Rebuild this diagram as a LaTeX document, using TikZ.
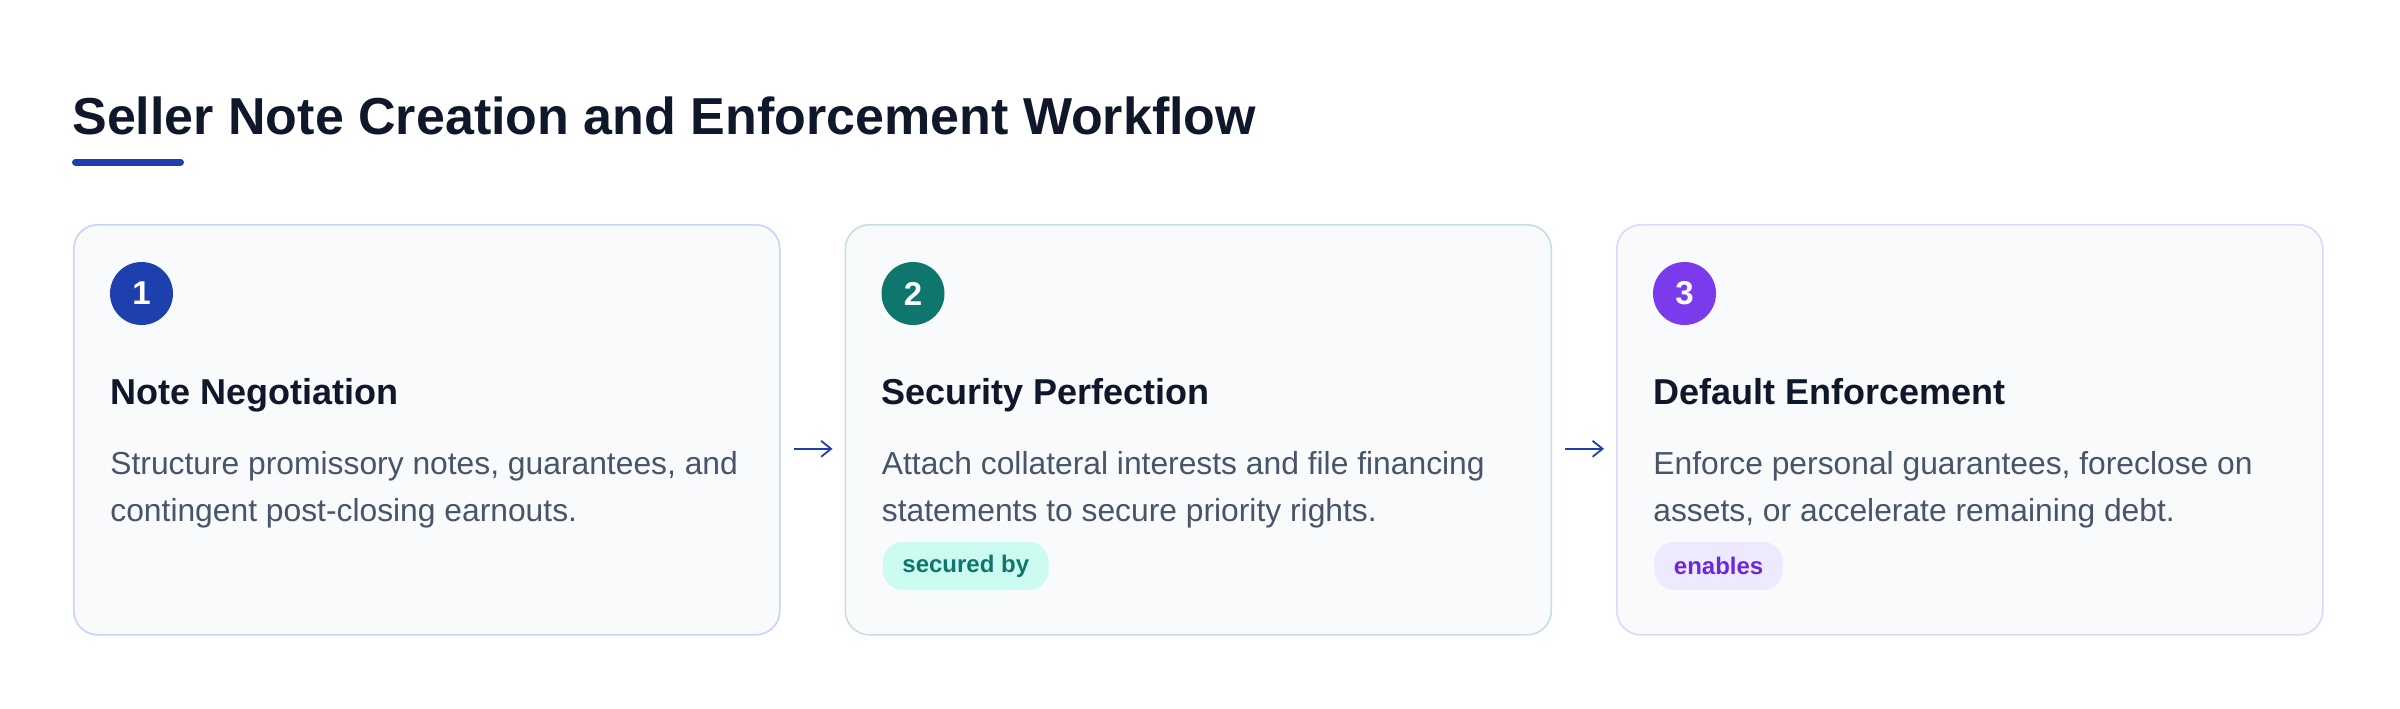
\documentclass[tikz,border=0pt]{standalone}
\usepackage{fontspec}
\setmainfont{Liberation Sans}
\usetikzlibrary{arrows.meta}

\definecolor{ink}{HTML}{0F172A}
\definecolor{slate}{HTML}{475569}
\definecolor{cardbg}{HTML}{F8FAFC}
\definecolor{blueA}{HTML}{1E40AF}
\definecolor{tealA}{HTML}{0F766E}
\definecolor{violetA}{HTML}{7C3AED}
\definecolor{blueL}{HTML}{C7D2FE}
\definecolor{tealL}{HTML}{C5E0DC}
\definecolor{violetL}{HTML}{DDD6FE}
\definecolor{tealT}{HTML}{CCFBF1}
\definecolor{violetT}{HTML}{EDE9FE}
\definecolor{violetD}{HTML}{6D28D9}

\begin{document}
\begin{tikzpicture}[
    x=0.5pt, y=-0.5pt,
    title/.style={anchor=base west, inner sep=0, ink, font=\fontsize{26}{30}\selectfont\bfseries},
    card/.style={draw, line width=0.8pt, fill=cardbg, rounded corners=12pt,
        minimum width=353pt, minimum height=205pt, anchor=north west, inner sep=0},
    num/.style={circle, minimum size=31.5pt, inner sep=0, text=white,
        font=\fontsize{16.5}{18}\selectfont\bfseries},
    heading/.style={anchor=base west, inner sep=0, ink, font=\fontsize{18}{22}\selectfont\bfseries},
    body/.style={anchor=base west, inner sep=0, slate, align=left,
        font=\fontsize{15.9}{23.5}\selectfont},
    tag/.style={anchor=west, rounded corners=10pt, minimum height=24pt, inner xsep=9.75pt,
        inner ysep=0, font=\fontsize{12}{14}\selectfont\bfseries},
    flow/.style={-{Straight Barb[length=5pt,width=8pt]}, line width=0.9pt, blueA,
        shorten <=6.5pt, shorten >=6pt}
]
    \useasboundingbox (0,0) rectangle (2400,708);
    % Titel
    \node[title] (head) at (72,134.5) {Seller Note Creation and Enforcement Workflow};
    \draw[blueA, line width=3.5pt, line cap=round] (75.5,162) -- (180.5,162);
    % Karten
    \node[card, draw=blueL] (card1) at (73,224) {};
    \node[card, draw=tealL] (card2) at (844.5,224) {};
    \node[card, draw=violetL] (card3) at (1616,224) {};
    % Nummern
    \node[num, fill=blueA] (n1) at (141.5,293.5) {1};
    \node[num, fill=tealA] (n2) at (913,293.5) {2};
    \node[num, fill=violetA] (n3) at (1684.5,293.5) {3};
    % Texte (Anker = Grundlinie der letzten Zeile)
    \node[heading] (h1) at (110,404) {Note Negotiation};
    \node[body] (b1) at (110,521) {Structure promissory notes, guarantees, and\\contingent post-closing earnouts.};
    \node[heading] (h2) at (881.5,404) {Security Perfection};
    \node[body] (b2) at (881.5,521) {Attach collateral interests and file financing\\statements to secure priority rights.};
    \node[heading] (h3) at (1653,404) {Default Enforcement};
    \node[body] (b3) at (1653,521) {Enforce personal guarantees, foreclose on\\assets, or accelerate remaining debt.};
    % Etiketten
    \node[tag, fill=tealT, text=tealA] (t2) at (882.5,566) {secured by};
    \node[tag, fill=violetT, text=violetD] (t3) at (1654,566) {enables};
    % Pfeile
    \draw[flow] ([yshift=-9.5pt]card1.east) -- ([yshift=-9.5pt]card2.west);
    \draw[flow] ([yshift=-9.5pt]card2.east) -- ([yshift=-9.5pt]card3.west);
\end{tikzpicture}
\end{document}
